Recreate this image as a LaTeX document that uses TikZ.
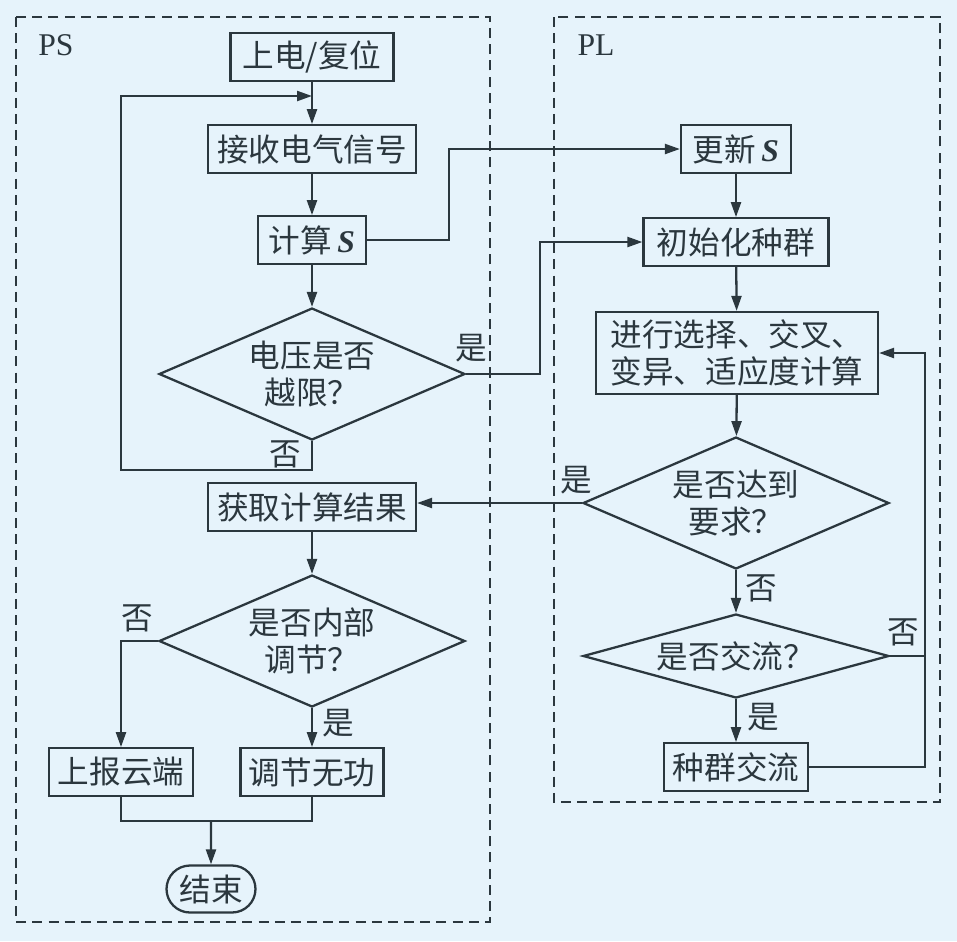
\documentclass[tikz,border=0pt]{standalone}
\usepackage{fontspec}
\setmainfont{Liberation Serif}
\newfontfamily\cjk{Noto Sans CJK SC}
\usepackage{tikz}
\usetikzlibrary{arrows.meta}
\usetikzlibrary{shapes}
\definecolor{bgc}{HTML}{E6F3FB}
\definecolor{ink}{HTML}{2B373E}
\newcommand{\Sv}{\,{\rmfamily\bfseries\itshape S}}
\tikzset{every node/.style={font=\cjk\fontsize{18}{21}\selectfont,text=ink},
 proc/.style={draw=ink,line width=1.3pt,inner sep=0pt,minimum height=0.95cm,align=center},
 decide/.style={diamond,draw=ink,line width=1.3pt,inner sep=0pt,align=center,minimum width=6.12cm},
 stopbox/.style={rounded rectangle,draw=ink,line width=1.3pt,inner sep=0pt,minimum width=1.78cm,minimum height=0.94cm},
 link/.style={draw=ink,line width=1.3pt},
 flow/.style={link,-{Triangle[length=3mm,width=2mm]}},
 zone/.style={draw=ink,line width=1.3pt,dash pattern=on 5.7pt off 3.5pt},
 tag/.style={inner sep=0pt},
 }

\begin{document}
\begin{tikzpicture}[x=0.02cm,y=-0.02cm]
    \useasboundingbox[fill=bgc] (0,0) rectangle (957,941);
    \draw[zone] (16,17) rectangle (490,922);
    \draw[zone] (554,17) rectangle (940,802);
    \node[tag] at (56,45) {\rmfamily PS};
    \node[tag] at (596,45) {\rmfamily PL};

    % PS
    \node[proc,minimum width=3.26cm] (pwr) at (312,57) {上电/复位};
    \node[proc,minimum width=4.16cm] (recv) at (312,149) {接收电气信号};
    \node[proc,minimum width=2.16cm] (calc) at (312,240) {计算\Sv};
    \node[decide,aspect=2.32,minimum height=2.64cm] (vlim) at (312,374) {电压是否\\越限？};
    \node[proc,minimum width=4.16cm] (res) at (312,507) {获取计算结果};
    \node[decide,aspect=2.32,minimum height=2.64cm] (inner) at (312,641) {是否内部\\调节？};
    \node[proc,minimum width=2.88cm] (rep) at (121,772) {上报云端};
    \node[proc,minimum width=2.86cm] (adj) at (312,772) {调节无功};
    \node[stopbox] (fin) at (211,889) {结束};
    \coordinate (j1) at (312,96);
    \coordinate (lp) at (121,470);
    \coordinate (mg) at (211,821);

    % PL
    \node[proc,minimum width=2.2cm] (upd) at (736,149) {更新\Sv};
    \node[proc,minimum width=3.7cm] (init) at (736,242) {初始化种群};
    \node[proc,minimum width=5.64cm,minimum height=1.64cm] (evo) at (737,353) {进行选择、交叉、\\变异、适应度计算};
    \node[decide,aspect=2.32,minimum height=2.64cm] (reach) at (736,503) {是否达到\\要求？};
    \node[decide,aspect=3.64,minimum height=1.68cm] (exch) at (736,656) {是否交流？};
    \node[proc,minimum width=2.88cm] (swap) at (736,767) {种群交流};
    \coordinate (rt) at (925,656);

    \draw[flow] (pwr) -- (recv);
    \draw[flow] (recv) -- (calc);
    \draw[flow] (calc) -- (vlim);
    \draw[flow] (vlim.south) |- (lp) |- (j1);
    \draw[flow] (calc.east) -- ++(82,0) |- (upd.west);
    \draw[flow] (vlim.east) -- ++(74,0) |- (init.west);
    \draw[flow] (res) -- (inner);
    \draw[flow] (inner.west) -| (rep.north);
    \draw[flow] (inner) -- (adj);
    \draw[link] (rep.south) |- (mg) -| (adj.south);
    \draw[flow] (mg) -- (fin);

    \draw[flow] (upd) -- (init);
    \draw[flow] (init) -- (evo);
    \draw[flow] (evo) -- (reach);
    \draw[flow] (reach.west) -- (reach.west -| res.east);
    \draw[flow] (reach) -- (exch);
    \draw[flow] (exch) -- (swap);
    \draw[flow] (exch.east) -- (rt) |- (evo.east);
    \draw[link] (swap.east) -| (rt);

    \node[tag] at (285,454) {否};
    \node[tag] at (471,348) {是};
    \node[tag] at (576,480) {是};
    \node[tag] at (761,588) {否};
    \node[tag] at (903,632) {否};
    \node[tag] at (763,717) {是};
    \node[tag] at (137,618) {否};
    \node[tag] at (338,723) {是};
\end{tikzpicture}
\end{document}
